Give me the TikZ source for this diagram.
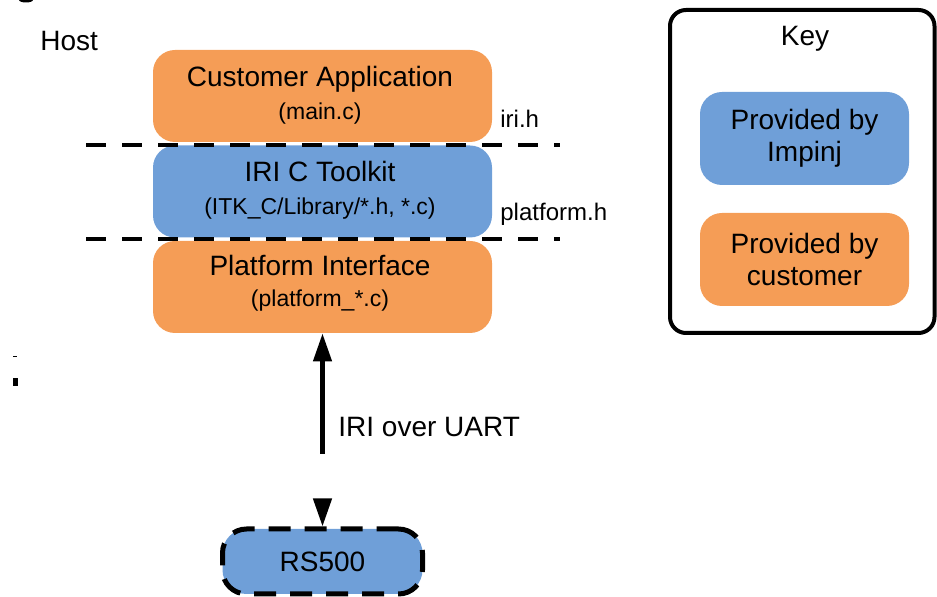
\documentclass[tikz,border=0pt]{standalone}
\usepackage{fontspec}
\setmainfont{Liberation Sans}
\usetikzlibrary{arrows.meta, positioning}
\definecolor{custorange}{HTML}{F59D56}
\definecolor{impblue}{HTML}{6F9FD8}
\tikzset{
  layer/.style={rounded corners=11pt, minimum width=169.5pt, minimum height=46pt, inner sep=0pt},
  keyitem/.style={rounded corners=11pt, minimum width=104.5pt, minimum height=46.5pt, align=center, inner sep=0pt, font=\fontsize{14}{16}\selectfont},
  bigtext/.style={font=\fontsize{14}{16}\selectfont, inner sep=0pt},
  smalltext/.style={font=\fontsize{11.5}{14}\selectfont, inner sep=0pt},
  hdrtext/.style={font=\fontsize{12}{14}\selectfont, inner sep=0pt},
  apiline/.style={line width=2.1pt, dash pattern=on 10pt off 8pt},
  link/.style={line width=2.2pt, dash pattern=on 47pt off 40pt, {Triangle[length=14pt,width=9pt]}-{Triangle[length=14pt,width=9pt]}},
}
\begin{document}
\begin{tikzpicture}[x=0.5pt, y=-0.5pt]
  \useasboundingbox (0,0) rectangle (937,597);
  \node [bigtext, anchor=west] (host) at (40,41) {Host};
  \node [layer, fill=custorange] (cust) at (322.5,96) {};
  \node [bigtext] (custname) at (320,79) {Customer Application};
  \node [smalltext] (custfile) at (320,114) {(main.c)};
  \node [layer, fill=impblue] (itk) at (322.5,191.5) {};
  \node [bigtext] (itkname) at (320,172) {IRI C Toolkit};
  \node [smalltext] (itkfile) at (320,209) {(ITK\_C/Library/*.h, *.c)};
  \node [layer, fill=custorange] (plat) at (322.5,287) {};
  \node [bigtext] (platname) at (320,265) {Platform Interface};
  \node [smalltext] (platfile) at (320,301) {(platform\_*.c)};
  \draw [apiline] (86,145) -- (560,145);
  \draw [apiline] (86,239) -- (560,239);
  \node [hdrtext, anchor=west] (irih) at (500,119) {iri.h};
  \node [hdrtext, anchor=west] (plath) at (500,214) {platform.h};
  \node [draw, fill=impblue, line width=2.5pt, dash pattern=on 11pt off 7pt, rounded corners=12pt, minimum width=100pt, minimum height=32.5pt, inner sep=0pt, font=\fontsize{14}{16}\selectfont] (rs) at (322.5,561.5) {RS500};
  \draw [link] (plat.south) -- (rs.north);
  \node [bigtext, anchor=west] (uart) at (338,427) {IRI over UART};
  \draw [line width=2pt, rounded corners=8pt] (670,10) rectangle (934.5,333);
  \node [bigtext] (keytitle) at (805,39) {Key};
  \node [keyitem, fill=impblue] (keyimp) at (804.5,138.5) {Provided by\\Impinj};
  \node [keyitem, fill=custorange] (keycust) at (804.5,259.5) {Provided by\\customer};
  \fill (26,0) ellipse (7 and 2.5);
  \fill (13,356) rectangle (17,357.5);
  \fill (13,378) rectangle (18,386);
\end{tikzpicture}
\end{document}
